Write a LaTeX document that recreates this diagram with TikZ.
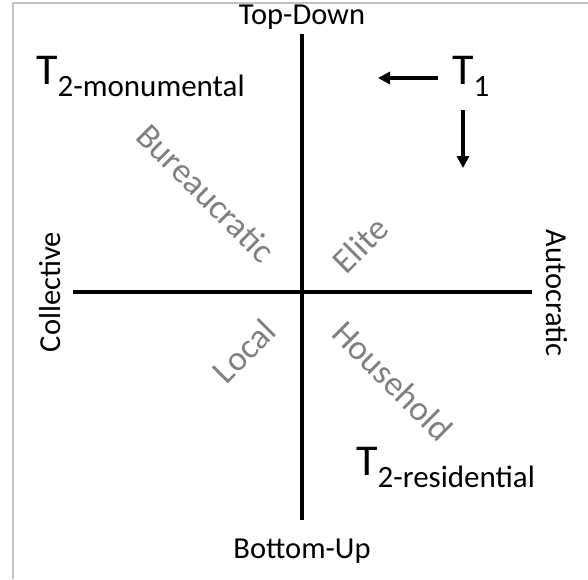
\documentclass[tikz,border=0pt]{standalone}
\usepackage{fontspec}
\setmainfont{Carlito}
\usetikzlibrary{arrows.meta}
\definecolor{quadgray}{RGB}{128,128,128}
\definecolor{framegray}{RGB}{195,195,195}
\newcommand{\tsub}[1]{{\fontsize{44}{44}\selectfont T}\raisebox{-12pt}{\fontsize{31}{31}\selectfont #1}}
\begin{document}
\begin{tikzpicture}[x=1pt,y=-1pt,
    axislabel/.style={font=\fontsize{30.5}{30.5}\selectfont,inner sep=0pt},
    quadrant/.style={font=\fontsize{35}{35}\selectfont,text=quadgray,inner sep=0pt},
    axis/.style={line width=4.6pt},
    move/.style={line width=3.2pt,-{Triangle[length=12pt,width=12pt]}}]
    \useasboundingbox (0,0) rectangle (588,579);
    \draw[framegray,line width=2pt] (13,579) -- (13,3) -- (588,3);
    % axes
    \coordinate (north) at (302,34);
    \coordinate (south) at (302,520);
    \coordinate (west) at (73,292);
    \coordinate (east) at (532,292);
    \draw[axis] (north) -- (south);
    \draw[axis] (west) -- (east);
    \node[axislabel] (topdown) at (302,17) {Top-Down};
    \node[axislabel] (bottomup) at (302,551) {Bottom-Up};
    \node[axislabel,rotate=90] (collective) at (50,292) {Collective};
    \node[axislabel,rotate=-90] (autocratic) at (557,293) {Autocratic};
    % quadrants
    \node[quadrant,rotate=-45] (bureau) at (206,193) {Bureaucratic};
    \node[quadrant,rotate=45] (elite) at (360,245) {Elite};
    \node[quadrant,rotate=45] (local) at (244,351) {Local};
    \node[quadrant,rotate=-45] (household) at (393,381) {Household};
    % trajectories
    \node[inner sep=0pt,anchor=base west] (tmon) at (36,84) {\tsub{2-monumental}};
    \node[inner sep=0pt,anchor=base west] (tone) at (452,84) {\tsub{1}};
    \node[inner sep=0pt,anchor=base west] (tres) at (356,475) {\tsub{2-residential}};
    \coordinate (leftstart) at (438,78);
    \coordinate (leftend) at (378,78);
    \coordinate (downstart) at (463,110);
    \coordinate (downend) at (463,168);
    \draw[move] (leftstart) -- (leftend);
    \draw[move] (downstart) -- (downend);
\end{tikzpicture}
\end{document}
